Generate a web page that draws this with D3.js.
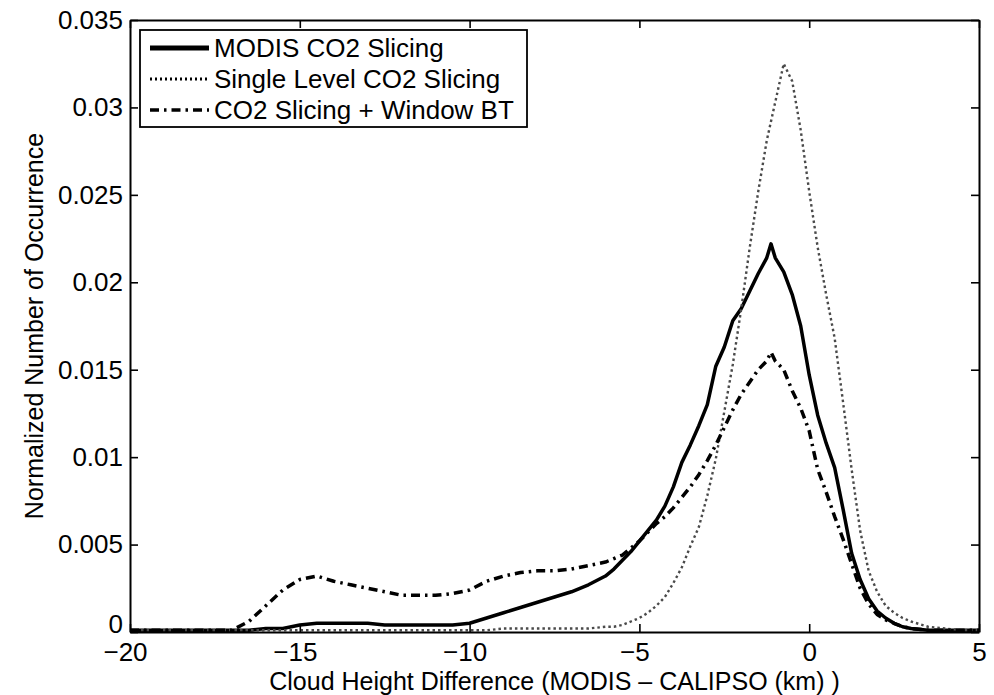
<!DOCTYPE html>
<html>
<head>
<meta charset="utf-8">
<script src="https://cdn.jsdelivr.net/npm/d3@7"></script>
<style>
  body { margin: 0; background: #fff; }
  svg text { font-family: "Liberation Sans", Arial, sans-serif; fill: #000; }
</style>
</head>
<body>
<div id="chart"></div>
<script>
// cloud height difference, km (x positions of the histogram bins)
var heightDiff = [-20, -19.5, -19, -18.5, -18, -17.5, -17, -16.5, -16, -15.5, -15, -14.5, -14, -13.5, -13,
  -12.5, -12, -11.5, -11, -10.5, -10, -9.5, -9, -8.5, -8, -7.5, -7, -6.5, -6,
  -5.75, -5.5, -5.25, -5, -4.75, -4.5, -4.25, -4, -3.75, -3.5, -3.25, -3, -2.75, -2.5, -2.25, -2,
  -1.75, -1.5, -1.25, -1.125, -1, -0.75, -0.5, -0.25, 0, 0.25, 0.5, 0.75, 1, 1.25, 1.5, 1.75, 2,
  2.25, 2.5, 2.75, 3, 3.5, 4, 4.5, 5];

// normalized occurrence
var modisCO2 = [0.0001, 0.0001, 0.0001, 0.0001, 0.0001, 0.0001, 0.0001, 0.0001, 0.0002, 0.0002, 0.0004, 0.0005, 0.0005, 0.0005, 0.0005,
  0.0004, 0.0004, 0.0004, 0.0004, 0.0004, 0.0005, 0.0008, 0.0011, 0.0014, 0.0017, 0.0020, 0.0023, 0.0027, 0.0032,
  0.0036, 0.0041, 0.0046, 0.0052, 0.0058, 0.0064, 0.0072, 0.0083, 0.0097, 0.0107, 0.0118, 0.0130, 0.0152, 0.0163, 0.0178, 0.0185,
  0.0195, 0.0205, 0.0214, 0.0222, 0.0214, 0.0206, 0.0193, 0.0175, 0.0147, 0.0124, 0.0108, 0.0094, 0.0070, 0.0045, 0.0030, 0.0019, 0.0012,
  0.0008, 0.0005, 0.0003, 0.0002, 0.0001, 0.0001, 0.0001, 0.0001];

var singleLevel = [0.0001, 0.0001, 0.0001, 0.0001, 0.0001, 0.0001, 0.0001, 0.0001, 0.0001, 0.0001, 0.0001, 0.0001, 0.0001, 0.0001, 0.0001,
  0.0001, 0.0001, 0.0001, 0.0001, 0.0001, 0.0001, 0.0001, 0.0002, 0.0002, 0.0002, 0.0002, 0.0002, 0.0002, 0.0003,
  0.0003, 0.0004, 0.0006, 0.0008, 0.0011, 0.0015, 0.0020, 0.0028, 0.0037, 0.0049, 0.0060, 0.0078, 0.0099, 0.0126, 0.0153, 0.0185,
  0.0220, 0.0252, 0.0281, 0.0292, 0.0303, 0.0325, 0.0315, 0.0287, 0.0252, 0.0220, 0.0193, 0.0168, 0.0131, 0.0093, 0.0058, 0.0035, 0.0023,
  0.0015, 0.0011, 0.0008, 0.0006, 0.0003, 0.0002, 0.0001, 0.0001];

var windowBT = [0.0001, 0.0001, 0.0001, 0.0001, 0.0001, 0.0001, 0.0001, 0.0006, 0.0015, 0.0024, 0.0030, 0.0032, 0.0029, 0.0027, 0.0025,
  0.0023, 0.0021, 0.0021, 0.0021, 0.0022, 0.0024, 0.0029, 0.0032, 0.0034, 0.0035, 0.0035, 0.0036, 0.0038, 0.0040,
  0.0042, 0.0044, 0.0048, 0.0052, 0.0057, 0.0062, 0.0066, 0.0071, 0.0077, 0.0083, 0.0090, 0.0098, 0.0107, 0.0117, 0.0127, 0.0136,
  0.0143, 0.0150, 0.0155, 0.0160, 0.0155, 0.0150, 0.0138, 0.0128, 0.0115, 0.0093, 0.0080, 0.0066, 0.0053, 0.0039, 0.0025, 0.0016, 0.0010,
  0.0007, 0.0005, 0.0003, 0.0002, 0.0001, 0.0001, 0.0001, 0.0001];

var seriesNames = ["MODIS CO2 Slicing", "Single Level CO2 Slicing", "CO2 Slicing + Window BT"];

var xTicks = [-20, -15, -10, -5, 0, 5];
var xTickLabels = ["\u221220", "\u221215", "\u221210", "\u22125", "0", "5"];
var yTicks = [0, 0.005, 0.01, 0.015, 0.02, 0.025, 0.03, 0.035];
var yTickLabels = ["0", "0.005", "0.01", "0.015", "0.02", "0.025", "0.03", "0.035"];

var xLabel = "Cloud Height Difference (MODIS \u2013 CALIPSO (km) )";
var yLabel = "Normalized Number of Occurrence";

// chart size
var width = 994;
var height = 695;
var margin = { top: 20, right: 15, bottom: 63, left: 130 };
var innerW = width - margin.left - margin.right;
var innerH = height - margin.top - margin.bottom;

var svg = d3.select("#chart")
  .append("svg")
  .attr("width", width)
  .attr("height", height);

var g = svg.append("g")
  .attr("transform", "translate(" + margin.left + "," + margin.top + ")");

var x = d3.scaleLinear().domain([-20, 5]).range([0, innerW]);
var y = d3.scaleLinear().domain([0, 0.035]).range([innerH, 0]);

// series styles (matlab-like: solid, dotted, dash-dot)
var styles = [
  { data: modisCO2, color: "#000", width: 3.5, dash: null, legendColor: "#000", legendWidth: 5, legendDash: null },
  { data: singleLevel, color: "#4a4a4a", width: 2.4, dash: "2.5,3", legendColor: "#000", legendWidth: 3, legendDash: "2,3" },
  { data: windowBT, color: "#000", width: 3.5, dash: "9,5,2.5,5", legendColor: "#000", legendWidth: 3.5, legendDash: "9,5,2.5,5" }
];

var line = d3.line()
  .x(function (d, i) { return x(heightDiff[i]); })
  .y(function (d) { return y(d); });

// draw curves
styles.forEach(function (s) {
  g.append("path")
    .datum(s.data)
    .attr("d", line)
    .attr("fill", "none")
    .attr("stroke", s.color)
    .attr("stroke-width", s.width)
    .attr("stroke-dasharray", s.dash)
    .attr("stroke-linejoin", "round");
});

// axes, ticks pointing inward on all four sides
function styleAxis(sel) {
  sel.select(".domain").attr("stroke", "#000").attr("stroke-width", 2);
  sel.selectAll(".tick line").attr("stroke", "#000").attr("stroke-width", 1.6);
  sel.selectAll("text").attr("font-size", "26px").style("font-family", "'Liberation Sans', Arial, sans-serif");
}

g.append("g")
  .attr("transform", "translate(0," + innerH + ")")
  .call(d3.axisBottom(x)
    .tickValues(xTicks)
    .tickFormat(function (d, i) { return xTickLabels[i]; })
    .tickSizeInner(-8).tickSizeOuter(0).tickPadding(11))
  .call(styleAxis)
  .selectAll("text")
  .attr("dx", function (d) { return d < 0 ? -5 : 0; });

g.append("g")
  .call(d3.axisLeft(y)
    .tickValues(yTicks)
    .tickFormat(function (d, i) { return yTickLabels[i]; })
    .tickSizeInner(-8).tickSizeOuter(0).tickPadding(7))
  .call(styleAxis)
  .selectAll("text")
  .attr("dy", function (d) { return d === 0 ? "0em" : "0.32em"; }); // lift the corner "0" a little

g.append("g")
  .call(d3.axisTop(x).tickValues(xTicks).tickFormat("").tickSizeInner(-8).tickSizeOuter(0))
  .call(styleAxis);

g.append("g")
  .attr("transform", "translate(" + innerW + ",0)")
  .call(d3.axisRight(y).tickValues(yTicks).tickFormat("").tickSizeInner(-8).tickSizeOuter(0))
  .call(styleAxis);

// axis titles
svg.append("text")
  .attr("x", margin.left + innerW / 2)
  .attr("y", 690)
  .attr("text-anchor", "middle")
  .style("font-size", "25px")
  .text(xLabel);

svg.append("text")
  .attr("transform", "translate(43," + (margin.top + innerH / 2) + ") rotate(-90)")
  .attr("text-anchor", "middle")
  .style("font-size", "25px")
  .text(yLabel);

// legend box
var legend = svg.append("g").attr("transform", "translate(140,30)");

legend.append("rect")
  .attr("width", 387)
  .attr("height", 97)
  .attr("fill", "#fff")
  .attr("stroke", "#000")
  .attr("stroke-width", 1.8);

var rows = legend.selectAll("g.row")
  .data(styles)
  .enter()
  .append("g")
  .attr("class", "row")
  .attr("transform", function (d, i) { return "translate(0," + (18 + i * 31) + ")"; });

rows.append("line")
  .attr("x1", 10).attr("x2", 69)
  .attr("stroke", function (d) { return d.legendColor; })
  .attr("stroke-width", function (d) { return d.legendWidth; })
  .attr("stroke-dasharray", function (d) { return d.legendDash; });

rows.append("text")
  .attr("x", 74)
  .attr("dy", "0.36em")
  .style("font-size", "26px")
  .text(function (d, i) { return seriesNames[i]; });
</script>
</body>
</html>
